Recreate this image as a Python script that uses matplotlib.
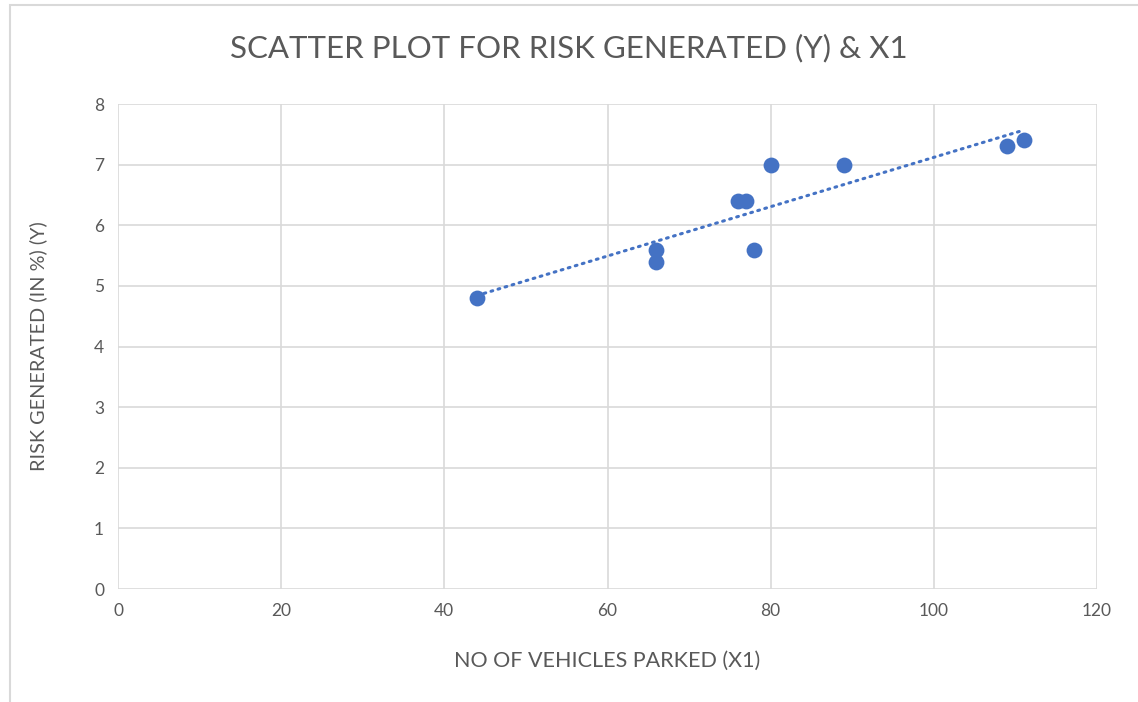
import matplotlib.pyplot as plt
import numpy as np
from matplotlib.patches import Rectangle

# data
vehicles_parked = [44, 66, 66, 76, 77, 78, 80, 89, 109, 111]
risk_generated = [4.8, 5.6, 5.4, 6.4, 6.4, 5.6, 7.0, 7.0, 7.3, 7.4]

x_ticks = [0, 20, 40, 60, 80, 100, 120]
y_ticks = [0, 1, 2, 3, 4, 5, 6, 7, 8]

blue = '#4472C4'
text_grey = '#595959'
grid_grey = '#d9d9d9'

plt.rcParams['font.family'] = ['Lato', 'DejaVu Sans']

fig = plt.figure(figsize=(11.38, 7.02), dpi=100)
ax = fig.add_axes([118 / 1138, 1 - 589 / 702, (1097 - 118) / 1138, (589 - 104) / 702])

# chart frame like the Excel chart area
fig.patches.append(Rectangle((10 / 1138, -0.1), 1.2, 1.1 - 5 / 702, transform=fig.transFigure,
                             fill=False, edgecolor=grid_grey, linewidth=1.5))

ax.scatter(vehicles_parked, risk_generated, s=130, color=blue, zorder=3, linewidths=0)

# linear trendline
slope, intercept = np.polyfit(vehicles_parked, risk_generated, 1)
xs = np.array([min(vehicles_parked), max(vehicles_parked)])
ax.plot(xs, slope * xs + intercept, color=blue, linewidth=2.2,
        linestyle=(0, (0.6, 1.8)), dash_capstyle='round', zorder=2)

ax.set_xlim(0, 120)
ax.set_ylim(0, 8)
ax.set_xticks(x_ticks)
ax.set_yticks(y_ticks)
ax.grid(True, color=grid_grey, linewidth=1.2, zorder=0)
ax.set_axisbelow(True)
for s in ax.spines.values():
    s.set_visible(False)
ax.tick_params(length=0, labelsize=12.5, labelcolor=text_grey, pad=10)

ax.set_xlabel("NO OF VEHICLES PARKED (X1)", fontsize=15.5, color=text_grey, labelpad=23)
ax.set_ylabel("RISK GENERATED (IN %) (Y)", fontsize=14.3, color=text_grey, labelpad=34)
fig.text(0.5, 1 - 48 / 702, "SCATTER PLOT FOR RISK GENERATED (Y) & X1", ha='center', va='center',
         fontsize=22.5, color=text_grey)

fig.savefig('out.png', dpi=100)
